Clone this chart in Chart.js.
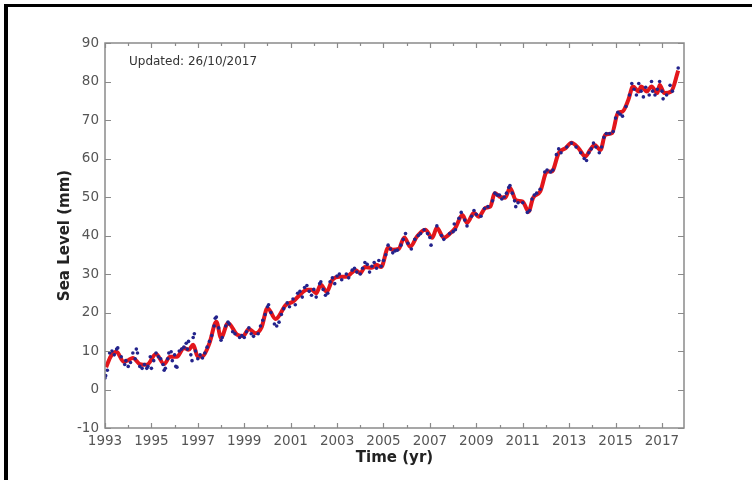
<!DOCTYPE html>
<html>
<head>
<meta charset="utf-8">
<script src="https://cdn.jsdelivr.net/npm/chart.js@4/dist/chart.umd.min.js"></script>
<style>
  html, body { margin: 0; padding: 0; background: #fff; }
  #wrap { position: relative; width: 752px; height: 480px; overflow: hidden; }
  #frame {
    position: absolute; left: 4px; top: 4px; width: 900px; height: 700px;
    border-left: 4px solid #000; border-top: 3px solid #000;
    pointer-events: none;
  }
  canvas { position: absolute; left: 0; top: 0; }
</style>
</head>
<body>
<div id="wrap">
  <canvas id="c" width="752" height="480"></canvas>
  <div id="frame"></div>
</div>
<script>
// Smoothed global mean sea level (mm)
const smoothYears = [
  1993.05, 1993.25, 1993.5, 1993.8, 1994.0, 1994.2, 1994.5, 1994.8, 1995.2, 1995.55,
  1995.8, 1996.1, 1996.4, 1996.6, 1996.8, 1997.0, 1997.2, 1997.5, 1997.8, 1998.0,
  1998.3, 1998.7, 1998.95, 1999.2, 1999.5, 1999.75, 2000.0, 2000.35, 2000.8, 2001.1,
  2001.4, 2001.7, 2001.9, 2002.1, 2002.3, 2002.55, 2002.8, 2003.1, 2003.4, 2003.8,
  2004.0, 2004.2, 2004.5, 2004.7, 2004.9, 2005.2, 2005.4, 2005.65, 2005.9, 2006.15,
  2006.45, 2006.8, 2007.1, 2007.3, 2007.6, 2007.9, 2008.1, 2008.4, 2008.6, 2008.9,
  2009.1, 2009.4, 2009.6, 2009.8, 2010.0, 2010.25, 2010.45, 2010.7, 2011.0, 2011.25,
  2011.45, 2011.75, 2012.05, 2012.25, 2012.55, 2012.85, 2013.1, 2013.4, 2013.7, 2013.9,
  2014.1, 2014.35, 2014.55, 2014.85, 2015.1, 2015.3, 2015.55, 2015.75, 2016.0, 2016.1,
  2016.35, 2016.55, 2016.8, 2016.9, 2017.1, 2017.4, 2017.7
];
const smoothLevels = [
  5.8, 8.6, 9.8, 7.2, 7.6, 8.2, 6.6, 6.4, 9.2, 6.6,
  8.5, 8.5, 10.8, 10.3, 11.6, 8.5, 8.6, 12.0, 17.6, 13.4,
  17.3, 14.2, 13.9, 15.7, 14.6, 16.2, 21.2, 18.3, 22.0, 22.8,
  24.6, 25.9, 25.9, 25.0, 27.2, 25.4, 28.5, 29.3, 29.3, 31.0,
  30.2, 31.8, 31.6, 32.4, 31.8, 36.8, 36.3, 36.5, 39.5, 37.1,
  39.8, 41.5, 39.4, 42.0, 39.4, 40.7, 42.0, 45.3, 43.3, 45.9,
  44.9, 47.2, 47.5, 51.0, 50.1, 49.8, 52.4, 49.2, 48.8, 46.2,
  49.8, 51.4, 56.6, 56.6, 61.4, 62.7, 64.1, 62.7, 60.5, 62.2,
  63.5, 62.2, 66.1, 66.6, 71.8, 72.2, 75.2, 78.7, 77.4, 78.7,
  77.4, 78.7, 77.0, 79.1, 77.0, 77.4, 82.8
];

// Individual altimetry cycles (mm)
const dotYears = [
  1993.0, 1993.03, 1993.1, 1993.2, 1993.3, 1993.4, 1993.5, 1993.55, 1993.7, 1993.85, 1993.9,
  1994.0, 1994.1, 1994.2, 1994.3, 1994.35, 1994.4, 1994.5, 1994.6, 1994.7, 1994.8, 1994.85, 1994.95,
  1995.0, 1995.1, 1995.2, 1995.3, 1995.4, 1995.5, 1995.55, 1995.6, 1995.7, 1995.75, 1995.85, 1995.9,
  1996.0, 1996.05, 1996.1, 1996.2, 1996.3, 1996.4, 1996.5, 1996.55, 1996.6, 1996.7, 1996.75, 1996.8, 1996.85, 1996.9,
  1997.0, 1997.1, 1997.2, 1997.3, 1997.4, 1997.5, 1997.6, 1997.7, 1997.75, 1997.8, 1997.9,
  1998.0, 1998.05, 1998.2, 1998.3, 1998.35, 1998.5, 1998.6, 1998.8, 1998.9,
  1999.0, 1999.1, 1999.2, 1999.3, 1999.4, 1999.6, 1999.7, 1999.8, 1999.9,
  2000.0, 2000.05, 2000.15, 2000.3, 2000.4, 2000.5, 2000.6, 2000.7, 2000.85, 2000.95,
  2001.1, 2001.2, 2001.3, 2001.4, 2001.5, 2001.6, 2001.7, 2001.8, 2001.9,
  2002.0, 2002.1, 2002.25, 2002.3, 2002.4, 2002.5, 2002.6, 2002.7, 2002.8, 2002.9,
  2003.0, 2003.1, 2003.2, 2003.4, 2003.5, 2003.65, 2003.75, 2003.85,
  2004.0, 2004.1, 2004.2, 2004.3, 2004.4, 2004.5, 2004.6, 2004.7, 2004.8, 2004.9,
  2005.0, 2005.1, 2005.2, 2005.3, 2005.4, 2005.5, 2005.6, 2005.75, 2005.85, 2005.95,
  2006.05, 2006.2, 2006.35, 2006.5, 2006.6, 2006.75, 2006.9,
  2007.0, 2007.05, 2007.3, 2007.5, 2007.6, 2007.85,
  2008.0, 2008.05, 2008.1, 2008.25, 2008.35, 2008.5, 2008.6, 2008.8, 2008.9,
  2009.0, 2009.2, 2009.35, 2009.5, 2009.7, 2009.8, 2009.9,
  2010.0, 2010.1, 2010.2, 2010.3, 2010.4, 2010.45, 2010.55, 2010.65, 2010.7, 2010.8,
  2011.0, 2011.2, 2011.3, 2011.4, 2011.5, 2011.6, 2011.75, 2011.95,
  2012.05, 2012.2, 2012.3, 2012.45, 2012.55, 2012.65, 2012.9,
  2013.1, 2013.3, 2013.5, 2013.65, 2013.75, 2013.85, 2013.95,
  2014.05, 2014.15, 2014.3, 2014.4, 2014.5, 2014.6, 2014.75, 2014.9,
  2015.0, 2015.1, 2015.2, 2015.3, 2015.45, 2015.6, 2015.7, 2015.8, 2015.9,
  2016.0, 2016.1, 2016.2, 2016.3, 2016.45, 2016.55, 2016.6, 2016.7, 2016.8, 2016.9,
  2017.0, 2017.05, 2017.2, 2017.35, 2017.45, 2017.7
];
const dotLevels = [
  3.0, 3.6, 5.0, 9.5, 10.0, 9.0, 10.5, 10.8, 8.5, 6.5, 7.5,
  6.0, 7.0, 9.5, 8.0, 10.5, 9.5, 6.0, 5.5, 6.5, 5.5, 6.0, 8.5,
  5.5, 7.5, 9.5, 8.5, 8.0, 6.5, 5.0, 5.5, 8.0, 9.5, 9.8, 7.5,
  9.0, 6.0, 5.8, 10.0, 10.5, 11.0, 12.0, 10.5, 12.5, 9.0, 7.5, 13.5, 14.5, 10.0,
  8.0, 9.0, 8.2, 9.5, 11.0, 12.5, 14.0, 16.5, 18.5, 18.8, 16.0,
  12.8, 13.5, 16.5, 17.5, 17.0, 15.0, 14.5, 13.5, 14.0,
  13.5, 15.0, 16.0, 14.5, 13.8, 14.5, 16.5, 18.0, 19.5,
  21.5, 22.0, 20.0, 17.0, 16.5, 17.5, 19.5, 21.0, 22.5, 21.5,
  23.5, 22.0, 25.0, 25.5, 24.0, 26.5, 27.0, 25.5, 24.5,
  26.0, 24.0, 27.5, 28.0, 26.0, 24.5, 25.0, 28.0, 29.0, 27.5,
  29.5, 30.0, 28.5, 30.0, 29.0, 31.0, 31.5, 30.5,
  30.0, 31.5, 33.0, 32.5, 30.5, 32.0, 33.0, 31.5, 33.5, 32.0,
  33.5, 35.0, 37.5, 36.5, 35.5, 36.0, 36.2, 37.5, 39.0, 40.5,
  38.0, 36.5, 39.0, 40.0, 40.5, 41.5, 40.5,
  39.5, 37.5, 42.5, 40.0, 39.0, 40.5,
  41.0, 43.0, 41.5, 44.5, 46.0, 44.0, 42.5, 45.0, 46.5,
  45.5, 45.0, 47.0, 47.5, 49.0, 51.0, 50.5,
  50.5, 49.5, 50.0, 51.0, 52.5, 53.0, 51.0, 49.0, 47.5, 48.5,
  48.5, 46.0, 46.5, 49.5, 50.5, 51.0, 52.0, 56.5,
  57.0, 56.5, 57.0, 61.0, 62.5, 61.5, 63.0,
  64.0, 63.0, 61.5, 60.0, 59.5, 61.5, 62.5,
  64.0, 63.0, 61.5, 63.0, 65.5, 66.5, 66.5, 67.0,
  70.5, 72.0, 71.5, 71.0, 73.5, 76.5, 79.5, 78.0, 76.5,
  79.5, 77.5, 76.0, 78.5, 76.5, 80.0, 77.5, 76.5, 78.0, 80.0,
  77.5, 75.5, 76.5, 79.0, 77.5, 83.5
];

const xTickLabels = [1993, 1995, 1997, 1999, 2001, 2003, 2005, 2007, 2009, 2011, 2013, 2015, 2017];
const xMinorYears = [1993, 1994, 1995, 1996, 1997, 1998, 1999, 2000, 2001, 2002, 2003, 2004, 2005,
                     2006, 2007, 2008, 2009, 2010, 2011, 2012, 2013, 2014, 2015, 2016, 2017];
const yTickValues = [-10, 0, 10, 20, 30, 40, 50, 60, 70, 80, 90];
const updatedNote = 'Updated: 26/10/2017';

const AXIS_GREY = '#8a8a8a';

// Box around the plot with inward-pointing ticks, plus the update note
const boxTicks = {
  id: 'boxTicks',
  afterDraw(chart) {
    const { ctx, chartArea: a, scales: { x, y } } = chart;
    ctx.save();
    ctx.strokeStyle = AXIS_GREY;
    ctx.lineWidth = 1.5;
    ctx.strokeRect(a.left, a.top, a.right - a.left, a.bottom - a.top);
    ctx.lineWidth = 1.2;
    ctx.beginPath();
    yTickValues.forEach(v => {
      const py = Math.round(y.getPixelForValue(v)) + 0.5;
      ctx.moveTo(a.left, py); ctx.lineTo(a.left + 6, py);
      ctx.moveTo(a.right, py); ctx.lineTo(a.right - 6, py);
    });
    xMinorYears.forEach(t => {
      const px = Math.round(x.getPixelForValue(t)) + 0.5;
      const len = xTickLabels.includes(t) ? 5 : 3;
      ctx.moveTo(px, a.bottom); ctx.lineTo(px, a.bottom - len);
      ctx.moveTo(px, a.top); ctx.lineTo(px, a.top + len);
    });
    ctx.stroke();

    ctx.fillStyle = '#333';
    ctx.font = '12px "DejaVu Sans"';
    ctx.textBaseline = 'middle';
    ctx.textAlign = 'left';
    ctx.fillText(updatedNote, a.left + 24, a.top + 19);
    ctx.restore();
  }
};

const tickFont = { family: 'DejaVu Sans', size: 13.5 };
const titleFont = { family: 'DejaVu Sans', size: 15, weight: 'bold' };

new Chart(document.getElementById('c'), {
  type: 'line',
  data: {
    datasets: [
      {
        type: 'scatter',
        data: dotYears.map((t, i) => ({ x: t, y: dotLevels[i] })),
        backgroundColor: '#23238c',
        borderWidth: 0,
        pointRadius: 1.8,
        showLine: false
      },
      {
        data: smoothYears.map((t, i) => ({ x: t, y: smoothLevels[i] })),
        borderColor: '#e3161b',
        borderWidth: 4,
        pointRadius: 0,
        cubicInterpolationMode: 'monotone',
        fill: false
      }
    ]
  },
  options: {
    responsive: false,
    animation: false,
    devicePixelRatio: 1,
    layout: { padding: { left: 45, top: 43, right: 68, bottom: 0 } },
    plugins: { legend: { display: false }, tooltip: { enabled: false } },
    scales: {
      x: {
        type: 'linear',
        min: 1993,
        max: 2017.95,
        grid: { display: false, drawTicks: false },
        border: { display: false },
        afterFit(s) { s.height = 52; },
        afterBuildTicks(s) { s.ticks = xTickLabels.map(v => ({ value: v })); },
        ticks: {
          font: tickFont,
          color: '#555',
          padding: 5,
          maxRotation: 0,
          autoSkip: false,
          callback: v => String(v)
        },
        title: {
          display: true,
          text: 'Time (yr)',
          font: titleFont,
          color: '#222',
          padding: { top: 0, bottom: 13 }
        }
      },
      y: {
        min: -10,
        max: 90,
        grid: { display: false, drawTicks: false },
        border: { display: false },
        afterFit(s) { s.width = 60; },
        afterBuildTicks(s) { s.ticks = yTickValues.map(v => ({ value: v })); },
        ticks: { font: tickFont, color: '#555', padding: 6 },
        title: {
          display: true,
          text: 'Sea Level (mm)',
          font: titleFont,
          color: '#222',
          padding: { top: 11, bottom: 0 }
        }
      }
    }
  },
  plugins: [boxTicks]
});
</script>
</body>
</html>
